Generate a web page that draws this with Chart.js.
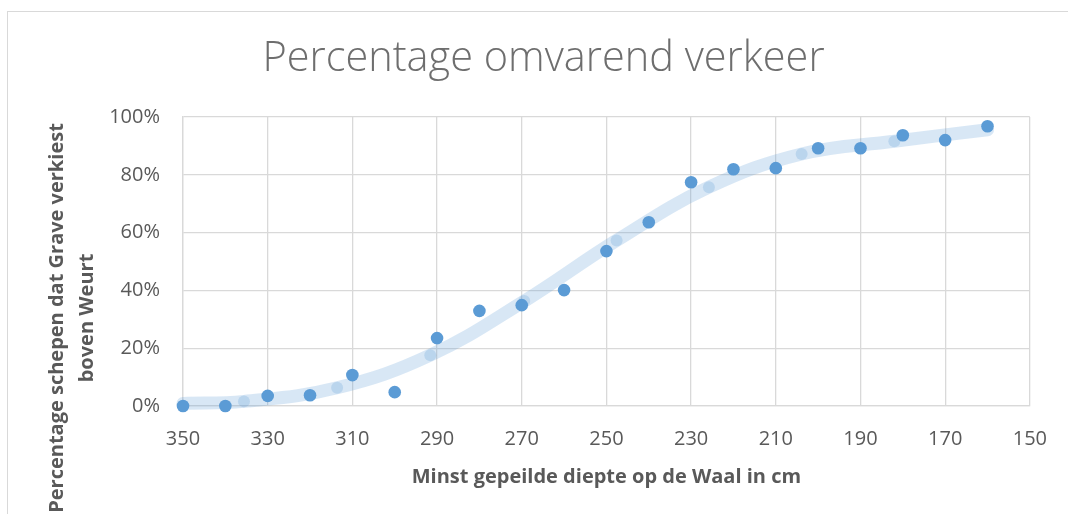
<!DOCTYPE html>
<html>
<head>
<meta charset="utf-8">
<script src="https://cdn.jsdelivr.net/npm/chart.js@4/dist/chart.umd.min.js"></script>
<style>
  html, body { margin: 0; padding: 0; background: #ffffff; overflow: hidden; }
  #wrap { position: relative; width: 1068px; height: 514px; }
  #frame { position: absolute; left: 7px; top: 11px; width: 1200px; height: 700px; border: 1px solid #d9d9d9; box-sizing: border-box; }
  #c { position: absolute; left: 0; top: 0; }
</style>
</head>
<body>
<div id="wrap">
  <div id="frame"></div>
  <canvas id="c" width="1068" height="514"></canvas>
</div>
<script>
// ---- data ----
const chartTitle = 'Percentage omvarend verkeer';
const xAxisTitle = 'Minst gepeilde diepte op de Waal in cm';
const yAxisTitleLines = ['Percentage schepen dat Grave verkiest', 'boven Weurt'];

const depths = [350, 340, 330, 320, 310, 300, 290, 280, 270, 260, 250, 240, 230, 220, 210, 200, 190, 180, 170, 160];
const percentages = [0, 0, 3.5, 3.7, 10.7, 4.8, 23.5, 32.9, 34.9, 40.1, 53.6, 63.6, 77.4, 81.9, 82.3, 89.2, 89.2, 93.7, 92.0, 96.8];

const trendDepths = [350, 335.6, 313.6, 291.6, 269.4, 247.6, 225.8, 203.9, 182.0, 160];
const trendPercentages = [0.9, 1.6, 6.3, 17.6, 36.3, 57.3, 75.7, 87.2, 91.6, 95.6];

const xMin = 150, xMax = 350, xStep = 20;
const yMin = 0, yMax = 100, yStep = 20;

// ---- chart ----
const textGray = '#595959';
const titleGray = '#6e6e6e';
const gridGray = '#d9d9d9';
const FONT = "'Open Sans', 'Liberation Sans', sans-serif";

const yTitlePlugin = {
  id: 'yTitlePlugin',
  afterDraw(chart) {
    const ctx = chart.ctx;
    ctx.save();
    ctx.fillStyle = textGray;
    ctx.font = "bold 20px " + FONT;
    ctx.textAlign = 'center';
    ctx.textBaseline = 'middle';
    const cy = 318;
    const xs = [57, 87];
    yAxisTitleLines.forEach((line, i) => {
      ctx.save();
      ctx.translate(xs[i], cy);
      ctx.rotate(-Math.PI / 2);
      ctx.fillText(line, 0, 0);
      ctx.restore();
    });
    ctx.restore();
  }
};

const trendPoints = trendDepths.map((d, i) => ({ x: d, y: trendPercentages[i] }));
const dataPoints = depths.map((d, i) => ({ x: d, y: percentages[i] }));

new Chart(document.getElementById('c'), {
  type: 'scatter',
  data: {
    datasets: [
      {
        label: 'Gemeten',
        data: dataPoints,
        order: 0,
        clip: false,
        showLine: false,
        pointRadius: 6.3,
        pointHoverRadius: 6.3,
        pointBackgroundColor: '#5b9bd5',
        pointBorderColor: '#5b9bd5',
        pointBorderWidth: 0
      },
      {
        label: 'Trend',
        data: trendPoints,
        order: 1,
        clip: false,
        showLine: true,
        tension: 0.4,
        borderColor: 'rgba(91,155,213,0.24)',
        borderWidth: 13,
        borderCapStyle: 'round',
        borderJoinStyle: 'round',
        pointRadius: (c) => (c.dataIndex === 0 || c.dataIndex === trendDepths.length - 1) ? 0 : 6,
        pointBackgroundColor: 'rgba(91,155,213,0.24)',
        pointBorderWidth: 0,
        fill: false
      }
    ]
  },
  options: {
    responsive: false,
    animation: false,
    devicePixelRatio: 1,
    layout: { padding: { left: 55, right: 36, top: 0, bottom: 0 } },
    plugins: {
      legend: { display: false },
      tooltip: { enabled: false },
      title: {
        display: true,
        text: chartTitle,
        color: titleGray,
        font: { family: FONT, size: 41.5, weight: '300', lineHeight: 1.2 },
        padding: { top: 34, bottom: 33.2 }
      }
    },
    scales: {
      x: {
        type: 'linear',
        reverse: true,
        min: xMin,
        max: xMax,
        afterFit(scale) { scale.height = 108; },
        ticks: {
          stepSize: xStep,
          color: textGray,
          font: { family: FONT, size: 20, lineHeight: 1.2 },
          padding: 21,
          maxRotation: 0
        },
        grid: { color: gridGray, lineWidth: 1.3, drawTicks: false },
        border: { display: true, color: gridGray, width: 1.3 },
        title: {
          display: true,
          text: xAxisTitle,
          color: textGray,
          font: { family: FONT, size: 20, weight: 'bold', lineHeight: 1.2 },
          padding: { top: 0, bottom: 25 }
        }
      },
      y: {
        type: 'linear',
        min: yMin,
        max: yMax,
        afterFit(scale) { scale.width = 128; },
        ticks: {
          stepSize: yStep,
          color: textGray,
          font: { family: FONT, size: 20, lineHeight: 1.2 },
          padding: 23,
          callback: (v) => v + '%'
        },
        grid: { color: gridGray, lineWidth: 1.3, drawTicks: false },
        border: { display: true, color: gridGray, width: 1.3 }
      }
    }
  },
  plugins: [yTitlePlugin]
});
</script>
</body>
</html>
